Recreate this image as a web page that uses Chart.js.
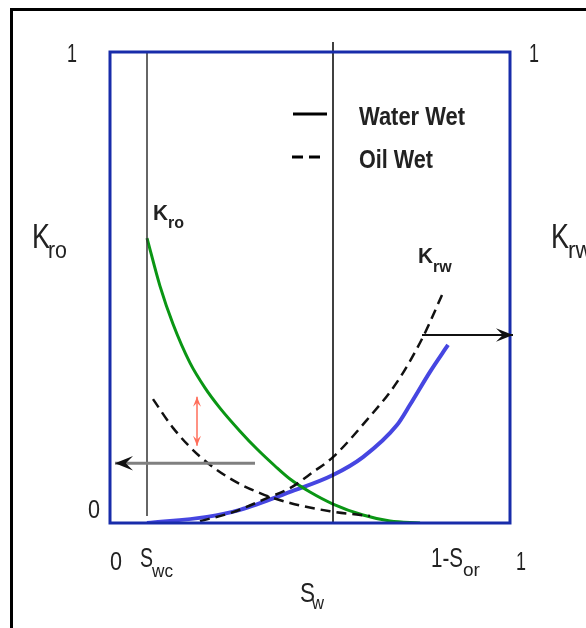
<!DOCTYPE html>
<html>
<head>
<meta charset="utf-8">
<script src="https://cdn.jsdelivr.net/npm/chart.js@4.4.1/dist/chart.umd.min.js"></script>
<style>
  body { margin: 0; background: #fff; }
  canvas { display: block; }
</style>
</head>
<body>
<canvas id="chart" width="586" height="628"></canvas>
<script>
// saturation values (x = Sw, y = relative permeability)
const kroWaterX = [0.0925, 0.125, 0.1575, 0.20, 0.2375, 0.275, 0.325, 0.3675, 0.4125, 0.45, 0.50, 0.5575, 0.6325, 0.70, 0.775];
const kroWaterY = [0.605, 0.503, 0.4225, 0.340, 0.287, 0.244, 0.195, 0.157, 0.121, 0.0934, 0.0658, 0.0403, 0.017, 0.0042, 0];

const krwWaterX = [0.0925, 0.2425, 0.325, 0.45, 0.5575, 0.6325, 0.7175, 0.75, 0.80, 0.845];
const krwWaterY = [0, 0.013, 0.028, 0.066, 0.102, 0.140, 0.208, 0.251, 0.321, 0.378];

const kroOilX = [0.1075, 0.1575, 0.225, 0.30, 0.375, 0.45, 0.55, 0.65];
const kroOilY = [0.263, 0.202, 0.141, 0.0945, 0.0635, 0.0425, 0.025, 0.0147];

const krwOilX = [0.225, 0.3075, 0.3925, 0.45, 0.5075, 0.5575, 0.6425, 0.7175, 0.7825, 0.83];
const krwOilY = [0.004, 0.023, 0.053, 0.074, 0.108, 0.140, 0.219, 0.299, 0.395, 0.484];

const swc = 0.0925;
const swMid = 0.5575;

// arrows: [from, to] in data units
const arrowOil = [[0.3625, 0.127], [0.0125, 0.127]];
const arrowWater = [[0.78, 0.399], [1.0075, 0.399]];
const arrowGap = [[0.2175, 0.268], [0.2175, 0.164]];

const legendLabels = ['Water Wet', 'Oil Wet'];

const pts = (xs, ys) => xs.map((x, i) => ({ x: x, y: ys[i] }));

function txt(ctx, s, x, y, size, opts = {}) {
    ctx.font = (opts.bold ? 'bold ' : '') + size + 'px "Liberation Sans Narrow", "Liberation Sans", Arial, sans-serif';
    ctx.fillStyle = opts.color || '#222';
    ctx.textAlign = 'left';
    ctx.textBaseline = 'alphabetic';
    if (opts.w) ctx.fillText(s, x, y, opts.w);
    else ctx.fillText(s, x, y);
}

function arrow(ctx, chart, a, color, head, width, both, headColor) {
    const xs = chart.scales.x, ys = chart.scales.y;
    const x0 = xs.getPixelForValue(a[0][0]), y0 = ys.getPixelForValue(a[0][1]);
    const x1 = xs.getPixelForValue(a[1][0]), y1 = ys.getPixelForValue(a[1][1]);
    ctx.save();
    ctx.strokeStyle = color;
    ctx.lineWidth = width;
    ctx.beginPath();
    ctx.moveTo(x0, y0);
    ctx.lineTo(x1, y1);
    ctx.stroke();
    const drawHead = (fx, fy, tx, ty) => {
        const ang = Math.atan2(ty - fy, tx - fx);
        ctx.fillStyle = headColor || color;
        ctx.beginPath();
        ctx.moveTo(tx, ty);
        ctx.lineTo(tx - head * Math.cos(ang) + head * 0.4 * Math.sin(ang), ty - head * Math.sin(ang) - head * 0.4 * Math.cos(ang));
        ctx.lineTo(tx - head * 0.6 * Math.cos(ang), ty - head * 0.6 * Math.sin(ang));
        ctx.lineTo(tx - head * Math.cos(ang) - head * 0.4 * Math.sin(ang), ty - head * Math.sin(ang) + head * 0.4 * Math.cos(ang));
        ctx.closePath();
        ctx.fill();
    };
    drawHead(x0, y0, x1, y1);
    if (both) drawHead(x1, y1, x0, y0);
    ctx.restore();
}

const decor = {
    id: 'decor',
    beforeDraw(chart) {
        const ctx = chart.ctx;
        ctx.save();
        ctx.fillStyle = '#fff';
        ctx.fillRect(0, 0, chart.width, chart.height);
        // outer frame
        ctx.strokeStyle = '#000';
        ctx.lineWidth = 3;
        ctx.beginPath();
        ctx.moveTo(11.5, chart.height);
        ctx.lineTo(11.5, 9.5);
        ctx.lineTo(chart.width, 9.5);
        ctx.stroke();
        ctx.restore();
    },
    afterDatasetsDraw(chart) {
        const ctx = chart.ctx;
        const a = chart.chartArea;
        ctx.save();
        ctx.strokeStyle = 'rgb(24, 44, 170)';
        ctx.lineWidth = 3;
        ctx.strokeRect(a.left, a.top, a.right - a.left, a.bottom - a.top);

        arrow(ctx, chart, arrowOil, '#808080', 18, 3, false, '#111');
        arrow(ctx, chart, arrowWater, '#111', 17, 2, false);
        arrow(ctx, chart, arrowGap, 'rgb(255, 110, 90)', 10, 1.5, true);

        // legend
        ctx.strokeStyle = '#000';
        ctx.lineWidth = 3;
        ctx.beginPath();
        ctx.moveTo(293, 114);
        ctx.lineTo(327, 114);
        ctx.stroke();
        ctx.setLineDash([11, 6]);
        ctx.beginPath();
        ctx.moveTo(292, 157);
        ctx.lineTo(322, 157);
        ctx.stroke();
        ctx.setLineDash([]);
        txt(ctx, legendLabels[0], 359, 125, 26, { bold: true, w: 106 });
        txt(ctx, legendLabels[1], 359, 168, 26, { bold: true, w: 74 });

        // axis values
        txt(ctx, '1', 67, 62, 25, { w: 10 });
        txt(ctx, '1', 529, 62, 25, { w: 10 });
        txt(ctx, '0', 88, 518, 25, { w: 12 });
        txt(ctx, '0', 110, 570, 25, { w: 12 });
        txt(ctx, '1', 516, 570, 25, { w: 10 });
        txt(ctx, 'S', 140, 567, 28, { w: 13 });
        txt(ctx, 'wc', 152, 577, 19, { w: 21 });
        txt(ctx, '1-S', 431, 567, 28, { w: 32 });
        txt(ctx, 'or', 463, 576, 19, { w: 17 });
        txt(ctx, 'S', 300, 602, 28, { w: 15 });
        txt(ctx, 'w', 312, 609, 19, { w: 12 });

        // axis titles
        txt(ctx, 'K', 32, 248, 35, { w: 18 });
        txt(ctx, 'ro', 48, 258, 23, { w: 19 });
        txt(ctx, 'K', 551, 248, 35, { w: 18 });
        txt(ctx, 'rw', 568, 258, 23, { w: 24 });

        // curve labels
        txt(ctx, 'K', 153, 220, 22, { bold: true, w: 15 });
        txt(ctx, 'ro', 168, 228, 16, { bold: true, w: 16 });
        txt(ctx, 'K', 418, 263, 22, { bold: true, w: 15 });
        txt(ctx, 'rw', 433, 272, 16, { bold: true, w: 19 });
        ctx.restore();
    }
};

new Chart(document.getElementById('chart'), {
    type: 'scatter',
    data: {
        datasets: [
            {
                data: [{ x: swc, y: 0.015 }, { x: swc, y: 1 }],
                borderColor: '#333', borderWidth: 1.5, showLine: true, pointRadius: 0
            },
            {
                data: [{ x: swMid, y: 0 }, { x: swMid, y: 1.021 }],
                borderColor: '#000', borderWidth: 1.5, showLine: true, pointRadius: 0, clip: false
            },
            {
                data: pts(kroOilX, kroOilY),
                borderColor: '#111', borderWidth: 2.5, borderDash: [10, 6],
                showLine: true, pointRadius: 0, cubicInterpolationMode: 'monotone'
            },
            {
                data: pts(krwOilX, krwOilY),
                borderColor: '#111', borderWidth: 2.5, borderDash: [10, 6],
                showLine: true, pointRadius: 0, cubicInterpolationMode: 'monotone'
            },
            {
                data: pts(kroWaterX, kroWaterY),
                borderColor: 'rgb(10, 150, 20)', borderWidth: 3,
                showLine: true, pointRadius: 0, cubicInterpolationMode: 'monotone'
            },
            {
                data: pts(krwWaterX, krwWaterY),
                borderColor: 'rgb(70, 70, 225)', borderWidth: 4,
                showLine: true, pointRadius: 0, cubicInterpolationMode: 'monotone'
            }
        ]
    },
    options: {
        responsive: false,
        animation: false,
        layout: { padding: { left: 110, right: 76, top: 52, bottom: 105 } },
        scales: {
            x: { type: 'linear', min: 0, max: 1, display: false },
            y: { type: 'linear', min: 0, max: 1, display: false }
        },
        plugins: {
            legend: { display: false },
            tooltip: { enabled: false }
        }
    },
    plugins: [decor]
});
</script>
</body>
</html>
